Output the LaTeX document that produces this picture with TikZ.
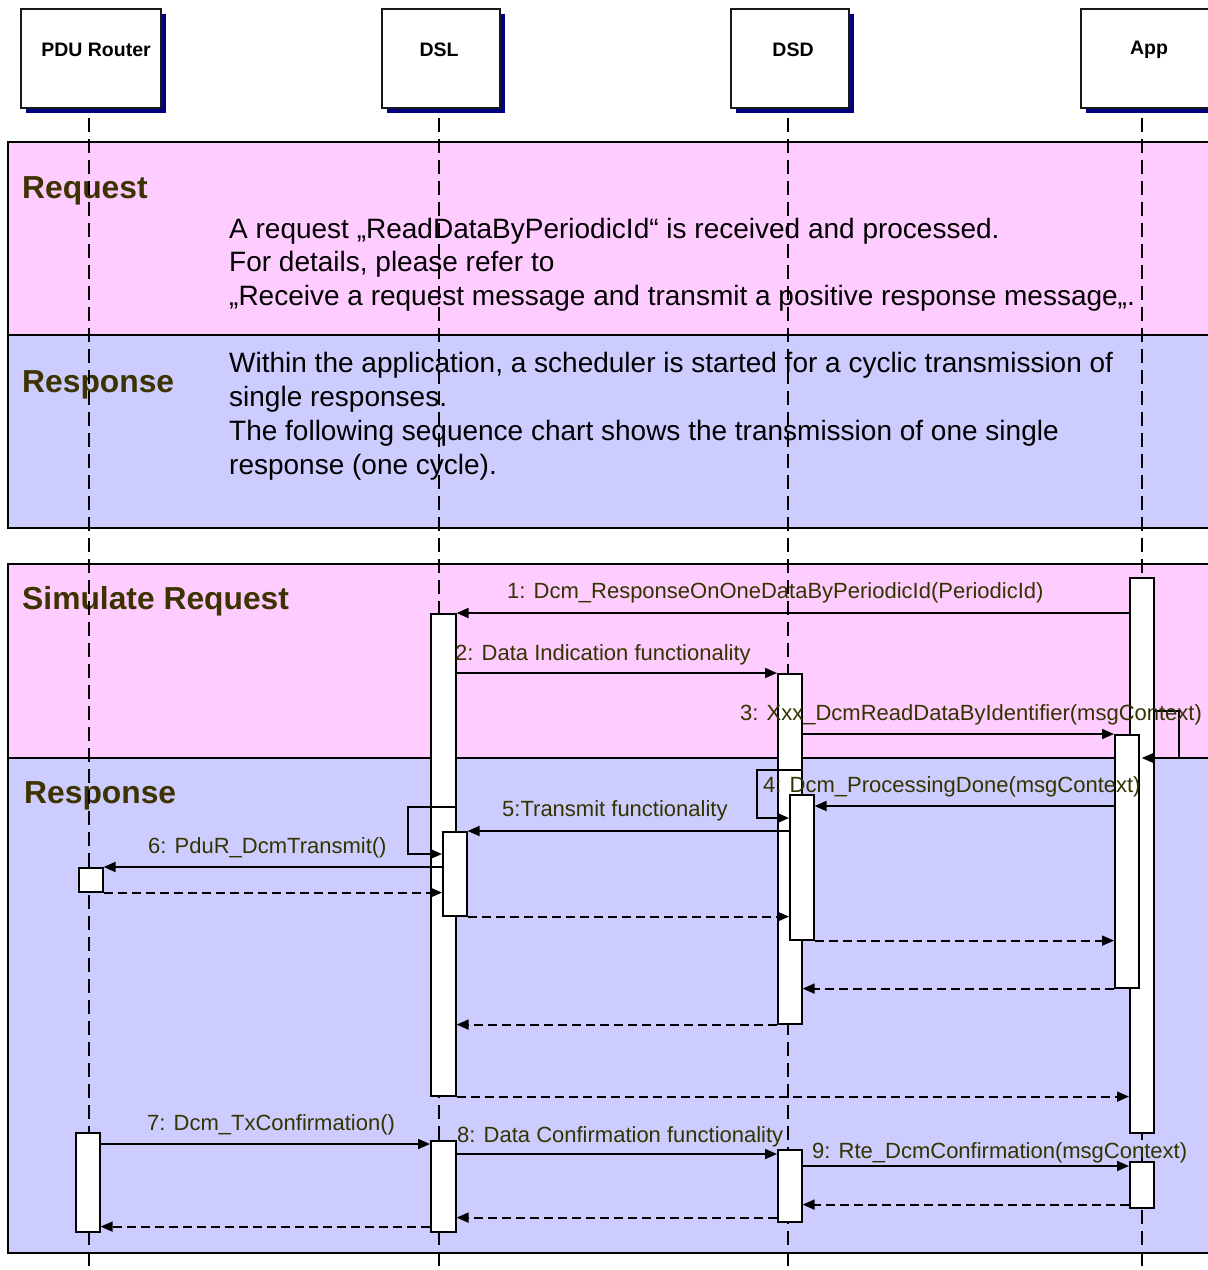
\documentclass[tikz,border=0pt]{standalone}
\usepackage{fontspec}
\setmainfont{Liberation Sans}
\usetikzlibrary{arrows.meta,shadows}
\definecolor{bandpink}{RGB}{255,204,255}
\definecolor{bandblue}{RGB}{204,204,255}
\definecolor{titleolive}{RGB}{61,51,0}
\definecolor{labelolive}{RGB}{51,51,0}
\definecolor{shadownavy}{RGB}{0,0,128}

\begin{document}
\begin{tikzpicture}[x=1pt,y=-1pt,
  band/.style={draw=black,line width=1.6pt},
  hdr/.style={draw=black!90,line width=1.5pt,fill=white,inner sep=0pt,anchor=north west,
     minimum height=99pt,
     drop shadow={shadow xshift=5pt,shadow yshift=-5pt,fill=shadownavy,opacity=1}},
  hdrtext/.style={anchor=base,inner sep=0pt,font=\fontsize{19.5}{23}\selectfont\bfseries},
  title/.style={anchor=base west,inner sep=0pt,text=titleolive,font=\fontsize{31.8}{38}\selectfont\bfseries},
  body/.style={anchor=base west,inner sep=0pt,font=\fontsize{28}{33.5}\selectfont},
  lbl/.style={anchor=base west,inner sep=0pt,text=labelolive,font=\fontsize{22}{26}\selectfont},
  lifeline/.style={line width=2pt,dash pattern=on 14pt off 7pt},
  bar/.style={draw=black,line width=1.6pt,fill=white,inner sep=0pt,anchor=north west,minimum width=24pt},
  msg/.style={line width=1.8pt,-{Triangle[length=12pt,width=10pt]}},
  ret/.style={msg,dash pattern=on 9pt off 5pt},
]
\useasboundingbox (0,0) rectangle (1208,1270);

% background bands
\filldraw[band,fill=bandpink] (8,142) rectangle (1214,335);
\filldraw[band,fill=bandblue] (8,335) rectangle (1214,528);
\filldraw[band,fill=bandpink] (8,564) rectangle (1214,758);
\filldraw[band,fill=bandblue] (8,758) rectangle (1214,1253);

% band titles
\node[title] (tReq)   at (22,198) {Request};
\node[title] (tResp)  at (22,392) {Response};
\node[title] (tSim)   at (22,609) {Simulate Request};
\node[title] (tResp2) at (24,803) {Response};

% band descriptions
\node[body] (req1) at (229,238) {A request „ReadDataByPeriodicId“ is received and processed.};
\node[body] (req2) at (229,271) {For details, please refer to};
\node[body] (req3) at (229,305) {„Receive a request message and transmit a positive response message„.};
\node[body] (rsp1) at (229,372) {Within the application, a scheduler is started for a cyclic transmission of};
\node[body] (rsp2) at (229,406) {single responses.};
\node[body] (rsp3) at (229,440) {The following sequence chart shows the transmission of one single};
\node[body] (rsp4) at (229,474) {response (one cycle).};

% participants
\node[hdr,minimum width=140pt] (pdu) at (20,8) {};
\node[hdr,minimum width=118pt] (dsl) at (381,8) {};
\node[hdr,minimum width=118pt] (dsd) at (730,8) {};
\node[hdr,minimum width=135pt] (app) at (1080,8) {};
\node[hdrtext] (pduT) at (96,56.5) {PDU Router};
\node[hdrtext] (dslT) at (439,56.5) {DSL};
\node[hdrtext] (dsdT) at (793,56.5) {DSD};
\node[hdrtext] (appT) at (1149,54.5) {App};

% lifelines
\coordinate (pduA) at (89,118);   \coordinate (pduB) at (89,1272);
\coordinate (dslA) at (439,118);  \coordinate (dslB) at (439,1272);
\coordinate (dsdA) at (788,118);  \coordinate (dsdB) at (788,1272);
\coordinate (appA) at (1142,118); \coordinate (appB) at (1142,1272);
\draw[lifeline] (pduA) -- (pduB);
\draw[lifeline] (dslA) -- (dslB);
\draw[lifeline] (dsdA) -- (dsdB);
\draw[lifeline] (appA) -- (appB);

% activation bars
\node[bar,minimum height=555pt] (A1) at (1129,577) {};
\node[bar,minimum width=25pt,minimum height=482pt] (L1) at (430,613) {};
\node[bar,minimum height=350pt] (D1) at (777,673) {};
\node[bar,minimum height=253pt] (A2) at (1114,734) {};
\node[bar,minimum height=145pt] (D2) at (789,794) {};
\node[bar,minimum height=84pt]  (L2) at (442,831) {};
\node[bar,minimum height=24pt]  (P1) at (78,867) {};
\node[bar,minimum height=99pt]  (P2) at (75,1132) {};
\node[bar,minimum width=25pt,minimum height=91pt] (L3) at (430,1140) {};
\node[bar,minimum height=72pt]  (D3) at (777,1149) {};
\node[bar,minimum height=46pt]  (A3) at (1129,1161) {};

% simulated request
\draw[msg] (A1.west |- L1.north) -- (L1.north east);
\draw[msg] (L1.east |- D1.north) -- (D1.north west);
\draw[msg] (D1.east |- A2.north) -- (A2.north west);
\draw[msg] ([yshift=-134pt]A1.north east) -- ++(24,0) |- ([yshift=-181pt]A1.north);

% response
\coordinate (m4) at ([yshift=-12pt]D2.north east);
\draw[msg] (A2.west |- m4) -- (m4);
\draw[msg] ([yshift=-97pt]D1.north east) -- ++(-46,0) |- ([yshift=-24pt]D2.north west);
\draw[msg] (D2.west |- L2.north) -- (L2.north east);
\draw[msg] ([yshift=-194pt]L1.north east) -- ++(-49,0) |- ([yshift=-23pt]L2.north west);
\draw[msg] (L2.west |- P1.north) -- (P1.north east);
\draw[ret] (P1.south east) -- (L2.west |- P1.south);
\draw[ret] (L2.south east) -- (D2.west |- L2.south);
\draw[ret] (D2.south east) -- (A2.west |- D2.south);
\draw[ret] (A2.south west) -- (D1.east |- A2.south);
\draw[ret] (D1.south west) -- (L1.east |- D1.south);
\draw[ret] (L1.south east) -- (A1.west |- L1.south);

% confirmation
\coordinate (m7) at ([yshift=-4pt]L3.north west);
\draw[msg] (P2.east |- m7) -- (m7);
\coordinate (m8) at ([yshift=-5pt]D3.north west);
\draw[msg] (L3.east |- m8) -- (m8);
\coordinate (m9) at ([yshift=-5pt]A3.north west);
\draw[msg] (D3.east |- m9) -- (m9);
\coordinate (r9) at ([yshift=4pt]A3.south west);
\draw[ret] (r9) -- (D3.east |- r9);
\coordinate (r8) at ([yshift=5pt]D3.south west);
\draw[ret] (r8) -- (L3.east |- r8);
\coordinate (r7) at ([yshift=6pt]L3.south west);
\draw[ret] (r7) -- (P2.east |- r7);

% message labels
\node[lbl] (t1) at (507,598)  {1: Dcm\_ResponseOnOneDataByPeriodicId(PeriodicId)};
\node[lbl] (t2) at (455,660)  {2: Data Indication functionality};
\node[lbl] (t3) at (740,720)  {3: Xxx\_DcmReadDataByIdentifier(msgContext)};
\node[lbl] (t4) at (763,792)  {4: Dcm\_ProcessingDone(msgContext)};
\node[lbl] (t5) at (502,816)  {5:Transmit functionality};
\node[lbl] (t6) at (148,853)  {6: PduR\_DcmTransmit()};
\node[lbl] (t7) at (147,1130) {7: Dcm\_TxConfirmation()};
\node[lbl] (t8) at (457,1142) {8: Data Confirmation functionality};
\node[lbl] (t9) at (812,1158) {9: Rte\_DcmConfirmation(msgContext)};
\end{tikzpicture}
\end{document}
